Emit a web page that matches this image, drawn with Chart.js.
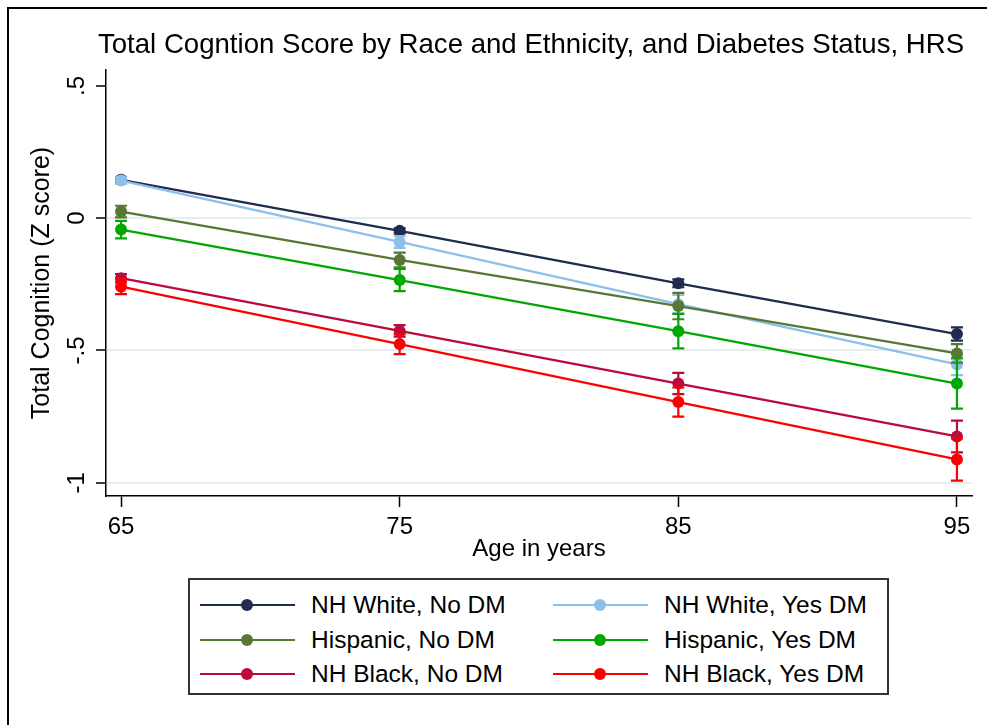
<!DOCTYPE html>
<html>
<head>
<meta charset="utf-8">
<title>Total Cognition Score by Race and Ethnicity, and Diabetes Status</title>
<script src="https://cdn.jsdelivr.net/npm/chart.js@4.4.0/dist/chart.umd.min.js"></script>
<style>
  html, body { margin: 0; padding: 0; background: #fff; }
  #wrap { position: relative; width: 987px; height: 725px; overflow: hidden;
          font-family: "Liberation Sans", Arial, sans-serif; color: #000; }
  #frame { position: absolute; left: 7px; top: 7px; width: 1000px; height: 740px;
           border-left: 2px solid #000; border-top: 2px solid #000; pointer-events: none; }
  #chart { position: absolute; left: 0; top: 0; }
  #title { position: absolute; left: 0; width: 1062px; top: 28px; text-align: center;
           font-size: 27.6px; line-height: 32px; white-space: nowrap; }
  #legend { position: absolute; left: 188px; top: 578px; width: 701px; height: 117px;
            box-sizing: border-box; border: 2px solid #333; background: #fff; }
  .item { position: absolute; height: 30px; }
  .item .ln { position: absolute; top: 14px; height: 2px; width: 95px; left: 0; }
  .item .dot { position: absolute; top: 9px; left: 41px; width: 12px; height: 12px; border-radius: 50%; }
  .item .tx { position: absolute; top: 0; left: 111px; font-size: 24.5px; line-height: 30px; white-space: nowrap; }
</style>
</head>
<body>
<div id="wrap">
  <canvas id="chart" width="987" height="725"></canvas>
  <div id="title">Total Cogntion Score by Race and Ethnicity, and Diabetes Status, HRS</div>
  <div id="legend"></div>
  <div id="frame"></div>
</div>
<script>
// Ages at which the predicted scores are evaluated
const ages = [65, 75, 85, 95];

// Predicted total cognition (Z score) for each group
const nhWhiteNoDM   = [0.145, -0.048, -0.246, -0.438];
const nhWhiteYesDM  = [0.142, -0.090, -0.325, -0.553];
const hispanicNoDM  = [0.025, -0.158, -0.332, -0.511];
const hispanicYesDM = [-0.043, -0.234, -0.427, -0.625];
const nhBlackNoDM   = [-0.227, -0.426, -0.625, -0.825];
const nhBlackYesDM  = [-0.259, -0.476, -0.695, -0.912];

// Half-width of the 95% confidence interval for each estimate
const nhWhiteNoDMCI   = [0.010, 0.010, 0.015, 0.025];
const nhWhiteYesDMCI  = [0.012, 0.022, 0.035, 0.040];
const hispanicNoDMCI  = [0.022, 0.028, 0.050, 0.035];
const hispanicYesDMCI = [0.033, 0.042, 0.065, 0.095];
const nhBlackNoDMCI   = [0.016, 0.022, 0.040, 0.060];
const nhBlackYesDMCI  = [0.028, 0.038, 0.055, 0.080];

const seriesNames = ['NH White, No DM', 'NH White, Yes DM', 'Hispanic, No DM',
                     'Hispanic, Yes DM', 'NH Black, No DM', 'NH Black, Yes DM'];
const seriesColors = ['#1f2c4f', '#8cc0ea', '#587634', '#00a800', '#bb0a3c', '#ff0000'];
const seriesValues = [nhWhiteNoDM, nhWhiteYesDM, hispanicNoDM, hispanicYesDM, nhBlackNoDM, nhBlackYesDM];
const seriesCI = [nhWhiteNoDMCI, nhWhiteYesDMCI, hispanicNoDMCI, hispanicYesDMCI, nhBlackNoDMCI, nhBlackYesDMCI];

// Y axis ticks and their labels
const yTicks = [-1, -0.5, 0, 0.5];
const yTickLabels = ['-1', '-.5', '0', '.5'];

const FONT = '"Liberation Sans", Arial, sans-serif';

const datasets = seriesNames.map((name, i) => ({
  label: name,
  data: ages.map((a, j) => ({ x: a, y: seriesValues[i][j] })),
  ci: seriesCI[i],
  borderColor: seriesColors[i],
  backgroundColor: seriesColors[i],
  borderWidth: 2.3,
  pointRadius: 6,
  pointBorderWidth: 0,
  pointBackgroundColor: seriesColors[i],
  tension: 0,
  // later groups are painted above earlier ones
  order: seriesNames.length - i
}));

// Confidence-interval caps drawn beneath each group's line and markers
const ciBars = {
  id: 'ciBars',
  beforeDatasetDraw(chart, args) {
    const ds = chart.data.datasets[args.index];
    const xs = chart.scales.x, ys = chart.scales.y;
    const ctx = chart.ctx;
    ctx.save();
    ctx.strokeStyle = ds.borderColor;
    ctx.lineWidth = 2.2;
    ds.data.forEach((p, j) => {
      const x = xs.getPixelForValue(p.x);
      const lo = ys.getPixelForValue(p.y - ds.ci[j]);
      const hi = ys.getPixelForValue(p.y + ds.ci[j]);
      ctx.beginPath();
      ctx.moveTo(x, lo); ctx.lineTo(x, hi);
      ctx.moveTo(x - 6, lo); ctx.lineTo(x + 6, lo);
      ctx.moveTo(x - 6, hi); ctx.lineTo(x + 6, hi);
      ctx.stroke();
    });
    ctx.restore();
  }
};

// Vertical (rotated) y tick labels
const yLabels = {
  id: 'yLabels',
  afterDraw(chart) {
    const ys = chart.scales.y;
    const ctx = chart.ctx;
    ctx.save();
    ctx.font = '24px ' + FONT;
    ctx.fillStyle = '#000';
    ctx.textAlign = 'center';
    ctx.textBaseline = 'alphabetic';
    yTicks.forEach((v, i) => {
      const y = ys.getPixelForValue(v);
      ctx.save();
      ctx.translate(84, y);
      ctx.rotate(-Math.PI / 2);
      ctx.fillText(yTickLabels[i], 0, 0);
      ctx.restore();
    });
    ctx.restore();
  }
};

new Chart(document.getElementById('chart'), {
  type: 'line',
  data: { datasets },
  plugins: [ciBars, yLabels],
  options: {
    responsive: false,
    animation: false,
    layout: { padding: { left: 0, right: 15, top: 70, bottom: 159 } },
    plugins: {
      legend: { display: false },
      title: { display: false },
      tooltip: { enabled: false }
    },
    scales: {
      x: {
        type: 'linear',
        min: 64.46,
        max: 95.54,
        afterBuildTicks(scale) { scale.ticks = ages.map(v => ({ value: v })); },
        afterFit(scale) { scale.height = 70; },
        border: { display: true, color: '#000', width: 1.5 },
        grid: { drawOnChartArea: false, drawTicks: true, tickLength: 11, tickColor: '#000', tickWidth: 1.5 },
        ticks: { color: '#000', font: { family: FONT, size: 24 }, padding: 6, maxRotation: 0, autoSkip: false },
        title: { display: true, text: 'Age in years', color: '#000',
                 font: { family: FONT, size: 24 }, padding: { top: 0, bottom: 2 } }
      },
      y: {
        type: 'linear',
        min: -1.05,
        max: 0.56,
        afterBuildTicks(scale) { scale.ticks = yTicks.map(v => ({ value: v })); },
        afterFit(scale) { scale.width = 106; },
        border: { display: true, color: '#000', width: 1.5 },
        grid: {
          drawOnChartArea: true,
          color: ctx => (ctx.tick && ctx.tick.value === 0.5) ? 'rgba(0,0,0,0)' : '#e6eef0',
          lineWidth: 2,
          drawTicks: true, tickLength: 10, tickColor: '#000', tickWidth: 1.5
        },
        ticks: { display: false },
        title: { display: true, text: 'Total Cognition (Z score)', color: '#000',
                 font: { family: FONT, size: 25 }, padding: { top: 27, bottom: 0 } }
      }
    }
  }
});

// Legend: two columns, filled row by row
const legend = document.getElementById('legend');
seriesNames.forEach((name, i) => {
  const col = i % 2, row = Math.floor(i / 2);
  const item = document.createElement('div');
  item.className = 'item';
  item.style.left = (col === 0 ? 10 : 363) + 'px';
  item.style.top = (10 + row * 34.5) + 'px';
  item.innerHTML = '<span class="ln" style="background:' + seriesColors[i] + '"></span>' +
                   '<span class="dot" style="background:' + seriesColors[i] + '"></span>' +
                   '<span class="tx">' + name + '</span>';
  legend.appendChild(item);
});
</script>
</body>
</html>
